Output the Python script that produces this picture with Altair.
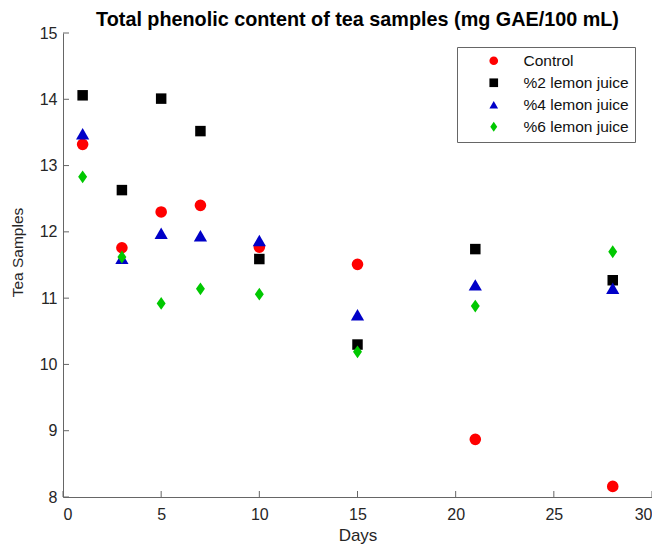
import altair as alt
import pandas as pd

days = [1, 3, 5, 7, 10, 15, 21, 28]
control = [13.32, 11.76, 12.30, 12.40, 11.77, 11.51, 8.87, 8.16]
lemon2 = [14.06, 12.63, 14.01, 13.52, 11.59, 10.30, 11.74, 11.27]
lemon4 = [13.48, 11.60, 11.98, 11.94, 11.87, 10.75, 11.20, 11.15]
lemon6 = [12.83, 11.62, 10.92, 11.14, 11.06, 10.19, 10.88, 11.70]
series_names = ["Control", "%2 lemon juice", "%4 lemon juice", "%6 lemon juice"]
series_colors = ["#ff0000", "#000000", "#0000c8", "#00c800"]
series_shapes = ["circle", "square", "triangle-up", "M0,-1.15L0.8,0L0,1.15L-0.8,0Z"]
series_sizes = [135, 110, 175, 125]
x_ticks = [0, 5, 10, 15, 20, 25, 30]
y_ticks = [8, 9, 10, 11, 12, 13, 14, 15]

rows = []
for i, (name, vals) in enumerate(zip(series_names, [control, lemon2, lemon4, lemon6])):
    for d, v in zip(days, vals):
        rows.append({"Days": d, "Value": v, "Series": name, "ord": i, "sz": series_sizes[i]})
df = pd.DataFrame(rows)

xscale = alt.Scale(domain=[0, 30], nice=False, zero=False)
yscale = alt.Scale(domain=[8, 15], nice=False, zero=False)

W, H = 589, 464
axis_color = "#666666"
label_color = "#262626"

legend = alt.Legend(title=None, orient="none", legendX=394, legendY=14,
                    strokeColor=axis_color, fillColor="white",
                    padding=6, symbolOffset=23, labelOffset=22,
                    labelFontSize=15.5, labelColor="#111111", symbolSize=75,
                    rowPadding=5, symbolStrokeWidth=0)

points = alt.Chart(df).mark_point(filled=True, opacity=1).encode(
    x=alt.X("Days:Q", scale=xscale, title="Days",
            axis=alt.Axis(values=x_ticks, format="d", ticks=False, grid=False, domainColor=axis_color,
                          labelFontSize=16, labelColor=label_color, labelPadding=9,
                          titleFontSize=17, titleFontWeight="normal", titleColor=label_color,
                          titlePadding=5)),
    y=alt.Y("Value:Q", scale=yscale, title="Tea Samples",
            axis=alt.Axis(values=y_ticks, format="d", ticks=False, grid=False, domainColor=axis_color,
                          labelFontSize=16, labelColor=label_color, labelPadding=6,
                          titleFontSize=15.5, titleFontWeight="normal", titleColor=label_color,
                          titlePadding=14, titleY=219)),
    color=alt.Color("Series:N", sort=series_names,
                    scale=alt.Scale(domain=series_names, range=series_colors),
                    legend=legend),
    shape=alt.Shape("Series:N", sort=series_names,
                    scale=alt.Scale(domain=series_names, range=series_shapes),
                    legend=legend),
    size=alt.Size("sz:Q", scale=None),
    order=alt.Order("ord:Q"),
)

xt = alt.Chart(pd.DataFrame({"Days": x_ticks})).mark_rule(color=axis_color).encode(
    x=alt.X("Days:Q", scale=xscale),
    y=alt.value(H), y2=alt.value(H - 6),
)
yt = alt.Chart(pd.DataFrame({"Value": y_ticks})).mark_rule(color=axis_color).encode(
    y=alt.Y("Value:Q", scale=yscale),
    x=alt.value(0), x2=alt.value(6),
)

chart = alt.layer(points, xt, yt).properties(
    width=W, height=H,
    title=alt.TitleParams("Total phenolic content of tea samples (mg GAE/100 mL)",
                          fontSize=19.8, fontWeight="bold", anchor="middle", offset=0,
                          dy=5, color="#000000"),
    autosize=alt.AutoSizeParams(type="none"),
    padding={"left": 55, "top": 25, "right": 0, "bottom": 48},
).configure(font="Liberation Sans").configure_view(stroke=None)

chart.save("out.html", embed_options={"renderer": "svg", "actions": False})
